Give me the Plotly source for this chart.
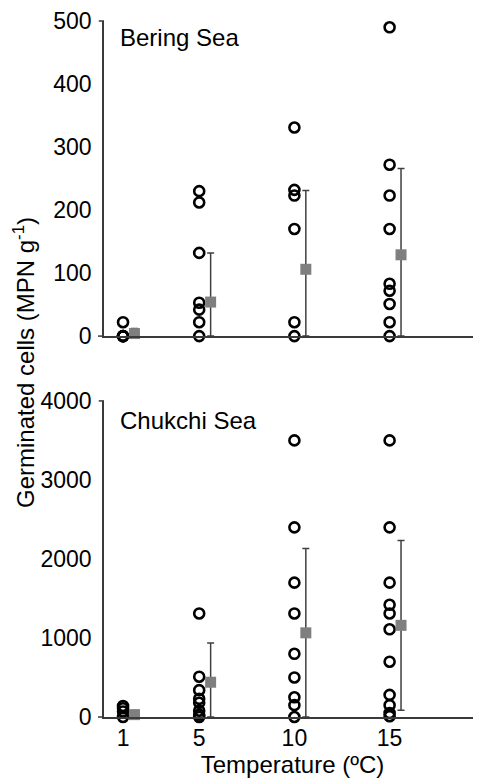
import plotly.graph_objects as go

# ---------------- data ----------------
temps = [1, 5, 10, 15]
tick_labels = ["1", "5", "10", "15"]

# Bering Sea – individual samples (MPN g-1)
bering_1 = [22, 0, 0, 0, 0]
bering_5 = [230, 212, 132, 53, 42, 22, 0]
bering_10 = [331, 232, 223, 170, 22, 0]
bering_15 = [490, 272, 223, 170, 83, 72, 51, 22, 0]
bering_mean = [4, 54, 106, 129]
bering_sd = [8, 78, 125, 137]

# Chukchi Sea – individual samples (MPN g-1)
chukchi_1 = [140, 110, 70, 0]
chukchi_5 = [1310, 510, 340, 230, 180, 80, 30, 0]
chukchi_10 = [3500, 2400, 1700, 1310, 800, 500, 250, 150, 0]
chukchi_15 = [3500, 2400, 1700, 1420, 1310, 1110, 700, 280, 150, 50, 10]
chukchi_mean = [30, 440, 1065, 1160]
chukchi_sd = [50, 495, 1068, 1075]

MEAN_OFFSET = 0.6  # means drawn slightly right of the sample column

FONT = "Liberation Sans, Arial, sans-serif"
AX_COLOR = "#3a3a3a"

fig = go.Figure()

def add_panel(groups, means, sds, xa, ya):
    for t, vals in zip(temps, groups):
        fig.add_trace(go.Scatter(
            x=[t] * len(vals), y=vals, mode="markers",
            marker=dict(symbol="circle-open", size=10, color="black",
                        line=dict(width=2.6, color="black")),
            cliponaxis=False, showlegend=False, xaxis=xa, yaxis=ya,
        ))
    minus = [min(s, m) for s, m in zip(sds, means)]
    fig.add_trace(go.Scatter(
        x=[t + MEAN_OFFSET for t in temps], y=means, mode="markers",
        marker=dict(symbol="square", size=11, color="#7f7f7f"),
        error_y=dict(type="data", symmetric=False, array=sds, arrayminus=minus,
                     color="#404040", thickness=1.5, width=3.5),
        cliponaxis=False, showlegend=False, xaxis=xa, yaxis=ya,
    ))

add_panel([bering_1, bering_5, bering_10, bering_15], bering_mean, bering_sd, "x", "y")
add_panel([chukchi_1, chukchi_5, chukchi_10, chukchi_15], chukchi_mean, chukchi_sd, "x2", "y2")

OFF = 8  # page body margin
W, H = 481 - OFF, 778 - OFF
ML, MR, MT, MB = 104 - OFF, 0, 19 - OFF, 61
PW = W - ML - MR
PH = H - MT - MB

def fy(p):
    return (H - MB - (p - OFF)) / PH

def fx(p):
    return ((p - OFF) - ML) / PW

axis_common = dict(showgrid=False, zeroline=False, showline=True,
                   linecolor=AX_COLOR, linewidth=1.5, ticks="",
                   tickfont=dict(family=FONT, size=23, color="black"))

decor = []
for xr, yr in (("x", "y"), ("x2", "y2")):
    # short top tick and leftward extension of the baseline
    decor.append(dict(type="line", xref=f"{xr} domain", yref=f"{yr} domain",
                      x0=-0.014, x1=0, y0=1, y1=1,
                      line=dict(color=AX_COLOR, width=1.5)))
    decor.append(dict(type="line", xref=f"{xr} domain", yref=f"{yr} domain",
                      x0=-0.016, x1=0, y0=0, y1=0,
                      line=dict(color=AX_COLOR, width=1.5)))

fig.update_layout(
    width=W, height=H,
    margin=dict(l=ML, r=MR, t=MT, b=MB),
    paper_bgcolor="white", plot_bgcolor="white",
    font=dict(family=FONT, size=23, color="black"),
    xaxis=dict(domain=[0, 1], range=[0, 19.8], anchor="y",
               showticklabels=False, **axis_common),
    yaxis=dict(domain=[fy(335), 1], range=[0, 500], anchor="x",
               tickvals=[0, 100, 200, 300, 400, 500], ticklabelstandoff=6,
               **axis_common),
    xaxis2=dict(domain=[0, 1], range=[0, 19.8], anchor="y2",
                tickvals=temps, ticktext=tick_labels,
                title=dict(text="Temperature (ºC)", standoff=3,
                           font=dict(family=FONT, size=24, color="black")),
                **axis_common),
    yaxis2=dict(domain=[0, fy(400)], range=[0, 4000], anchor="x2",
                tickvals=[0, 1000, 2000, 3000, 4000], ticklabelstandoff=6,
                **axis_common),
    shapes=decor,
    annotations=[
        dict(text="Germinated cells (MPN g<sup>-1</sup>)", textangle=-90,
             xref="paper", yref="paper", x=fx(24), y=fy(362),
             xanchor="center", yanchor="middle", showarrow=False,
             font=dict(family=FONT, size=24, color="black")),
        dict(text="Bering Sea", xref="paper", yref="paper",
             x=fx(118), y=fy(36), xanchor="left", yanchor="middle",
             showarrow=False, font=dict(family=FONT, size=24, color="black")),
        dict(text="Chukchi Sea", xref="paper", yref="paper",
             x=fx(118), y=fy(420), xanchor="left", yanchor="middle",
             showarrow=False, font=dict(family=FONT, size=24, color="black")),
    ],
)

fig.write_html("out.html")
